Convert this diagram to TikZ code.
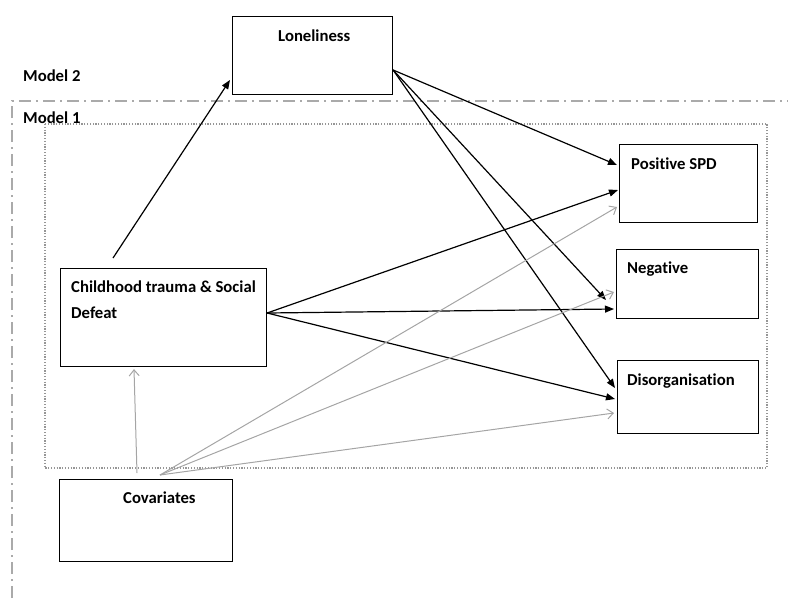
\documentclass[tikz,border=0pt]{standalone}
\usepackage{fontspec}
\setmainfont{Carlito}[Ligatures=NoCommon]
\usetikzlibrary{arrows.meta,calc}
\definecolor{framegray}{RGB}{170,170,170}
\definecolor{dotgray}{RGB}{150,150,150}
\definecolor{linegray}{RGB}{165,165,165}
\tikzset{
  box/.style={draw=black, line width=1.1pt, anchor=north west, inner sep=0pt},
  lbl/.style={anchor=base west, inner sep=0pt, font=\fontsize{16.7}{20}\selectfont\bfseries},
  blk/.style={draw=black, line width=1.2pt, -{Triangle[length=9pt,width=7pt]}},
  gry/.style={draw=linegray, line width=1pt, -{Straight Barb[length=6pt,width=10pt]}},
}
\begin{document}
\begin{tikzpicture}[x=1pt,y=-1pt]
\useasboundingbox (0,0) rectangle (788,598);
% model frames
\draw[framegray, line width=2pt, dash pattern=on 12pt off 5pt on 2pt off 5pt] (12,598) -- (12,101) -- (788,101);
\draw[dotgray, line width=1.5pt, dash pattern=on 1.2pt off 1.6pt] (45,124) rectangle (767,468);
\node[lbl] (m2) at (23,81) {Model 2};
\node[lbl] (m1) at (23,123) {Model 1};
% boxes
\node[box, minimum width=160pt, minimum height=78pt] (lon) at (232,16) {};
\node[box, minimum width=138pt, minimum height=78pt] (pos) at (619,144) {};
\node[box, minimum width=142pt, minimum height=69pt] (neg) at (616,249) {};
\node[box, minimum width=141pt, minimum height=73pt] (dis) at (617,360) {};
\node[box, minimum width=206pt, minimum height=98pt] (chi) at (60,268) {};
\node[box, minimum width=173pt, minimum height=82pt] (cov) at (59,479) {};
% texts
\node[lbl] (tlon) at (278,41) {Loneliness};
\node[lbl] (tpos) at (631,169) {Positive SPD};
\node[lbl] (tneg) at (627,273) {Negative};
\node[lbl] (tdis) at (627,385) {Disorganisation};
\node[lbl] (tchi1) at (71,292) {Childhood trauma \& Social};
\node[lbl] (tchi2) at (71,318) {Defeat};
\node[lbl] (tcov) at (123,503) {Covariates};
% coordinates
\coordinate (lonout) at ($(lon.north east)+(0,54)$);
\coordinate (chiout) at ($(chi.north east)+(0,45)$);
\coordinate (chitop) at ($(chi.north west)+(53,-10)$);
\coordinate (covfan) at ($(cov.north west)+(101,-4)$);
\coordinate (covup) at ($(cov.north west)+(78,-6)$);
% black arrows
\draw[blk] (chitop) -- ($(lon.north west)+(-2,64)$);
\draw[blk] (lonout) -- ($(pos.north west)+(-2,21)$);
\draw[blk] (lonout) -- ($(neg.north west)+(-10,51)$);
\draw[blk] (lonout) -- ($(dis.north west)+(-2,28)$);
\draw[blk] (chiout) -- ($(pos.north west)+(-1,46)$);
\draw[blk] (chiout) -- ($(neg.north west)+(-2,60)$);
\draw[blk] (chiout) -- ($(dis.north west)+(-2,39)$);
% grey arrows
\draw[gry] (covup) -- ($(chi.south west)+(74,2)$);
\draw[gry] (covfan) -- ($(pos.north west)+(-2,63)$);
\draw[gry] (covfan) -- ($(neg.north west)+(-2,43)$);
\draw[gry] (covfan) -- ($(dis.north west)+(-3,53)$);
\end{tikzpicture}
\end{document}
